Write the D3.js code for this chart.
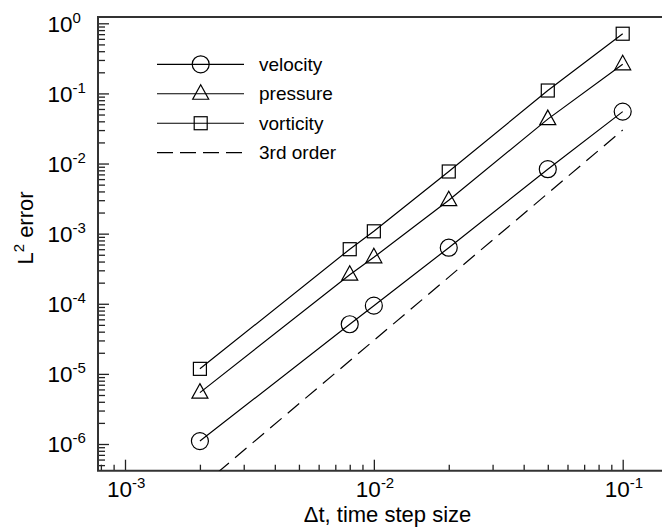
<!DOCTYPE html>
<html>
<head>
<meta charset="utf-8">
<script src="https://cdn.jsdelivr.net/npm/d3@7"></script>
<style>
  body { margin: 0; background: #fff; }
  text { font-family: "Liberation Sans", Arial, Helvetica, sans-serif; fill: #000; }
</style>
</head>
<body>
<div id="chart"></div>
<script>
// time step sizes
let dt = [0.002, 0.008, 0.01, 0.02, 0.05, 0.1]
// L2 errors
let velocity = [1.1e-6, 5.1e-5, 9.4e-5, 6.3e-4, 8.3e-3, 5.5e-2]
let pressure = [5.4e-6, 2.6e-4, 4.6e-4, 3.0e-3, 4.3e-2, 2.6e-1]
let vorticity = [1.18e-5, 6.0e-4, 1.08e-3, 7.7e-3, 1.1e-1, 7.1e-1]
// reference slope line
let orderDt = [0.002, 0.1]
let orderErr = [2.4e-7, 3.0e-2]

let xMajor = [-3, -2, -1]
let yMajor = [0, -1, -2, -3, -4, -5, -6]

let width = 662
let height = 528

// placement: 10^-3 .. 10^-1 on x, 10^0 .. 10^-6 on y
let x = d3.scaleLog().domain([1e-3, 1e-1]).range([125, 622.7])
let y = d3.scaleLog().domain([1, 1e-6]).range([23.3, 444])

let plotLeft = 98
let plotRight = 700
let plotTop = 17
let plotBottom = 470.7

let svg = d3
  .select('#chart')
  .append('svg')
  .attr('width', width)
  .attr('height', height)

svg.append('defs')
  .append('clipPath')
  .attr('id', 'plot')
  .append('rect')
  .attr('x', plotLeft)
  .attr('y', plotTop)
  .attr('width', plotRight - plotLeft)
  .attr('height', plotBottom - plotTop)

// minor tick values inside the frame
function minorTicks(scale, lo, hi) {
  let out = []
  for (let e = -8; e <= 1; e++) {
    for (let k = 2; k <= 9; k++) {
      let v = k * Math.pow(10, e)
      let p = scale(v)
      if (p > lo + 1 && p < hi - 1) out.push(v)
    }
  }
  return out
}

let xMinor = minorTicks(x, plotLeft, 662)
let yMinor = minorTicks(y, plotTop, plotBottom)

let tickColor = '#222'

// bottom axis ticks (inward)
svg.append('g')
  .attr('transform', 'translate(0,' + plotBottom + ')')
  .call(d3.axisBottom(x).tickValues(xMinor).tickSize(-6).tickSizeOuter(0).tickFormat(''))
  .call(g => g.select('.domain').remove())
svg.append('g')
  .attr('transform', 'translate(0,' + plotBottom + ')')
  .call(d3.axisBottom(x).tickValues(xMajor.map(e => Math.pow(10, e))).tickSize(-11).tickSizeOuter(0).tickFormat(''))
  .call(g => g.select('.domain').remove())

// left axis ticks (inward)
svg.append('g')
  .attr('transform', 'translate(' + plotLeft + ',0)')
  .call(d3.axisLeft(y).tickValues(yMinor).tickSize(-7).tickSizeOuter(0).tickFormat(''))
  .call(g => g.select('.domain').remove())
svg.append('g')
  .attr('transform', 'translate(' + plotLeft + ',0)')
  .call(d3.axisLeft(y).tickValues(yMajor.map(e => Math.pow(10, e))).tickSize(-11).tickSizeOuter(0).tickFormat(''))
  .call(g => g.select('.domain').remove())

svg.selectAll('.tick line').attr('stroke', tickColor).attr('stroke-width', 1.3)

// frame
svg.append('path')
  .attr('d', 'M' + plotRight + ',' + plotTop + 'H' + plotLeft + 'V' + plotBottom + 'H' + plotRight)
  .attr('fill', 'none')
  .attr('stroke', '#333')
  .attr('stroke-width', 2)

// tick labels with superscripts
function powerLabel(sel, e) {
  sel.append('tspan').text('10')
  sel.append('tspan')
    .attr('font-size', 15)
    .attr('dy', -9)
    .text(e)
}

svg.selectAll('.ylab')
  .data(yMajor)
  .enter()
  .append('text')
  .attr('class', 'ylab')
  .attr('x', 47.5)
  .attr('y', d => y(Math.pow(10, d)) + 8.4)
  .attr('font-size', 22.5)
  .each(function (d) { powerLabel(d3.select(this), d) })

svg.selectAll('.xlab')
  .data(xMajor)
  .enter()
  .append('text')
  .attr('class', 'xlab')
  .attr('x', d => x(Math.pow(10, d)) - 18)
  .attr('y', 497)
  .attr('font-size', 22.5)
  .each(function (d) { powerLabel(d3.select(this), d) })

// axis titles
svg.append('text')
  .attr('x', 387.5)
  .attr('y', 522)
  .attr('text-anchor', 'middle')
  .attr('font-size', 22)
  .text('\u0394t, time step size')

let yt = svg.append('text')
  .attr('transform', 'translate(33,228) rotate(-90)')
  .attr('text-anchor', 'middle')
  .attr('font-size', 22)
yt.append('tspan').text('L')
yt.append('tspan').attr('font-size', 15).attr('dy', -9).text('2')
yt.append('tspan').attr('dy', 9).text(' error')

// series
let series = [
  { name: 'velocity', values: velocity, marker: 'circle' },
  { name: 'pressure', values: pressure, marker: 'triangle' },
  { name: 'vorticity', values: vorticity, marker: 'square' }
]

let line = d3.line()
  .x(d => x(d[0]))
  .y(d => y(d[1]))

let plot = svg.append('g').attr('clip-path', 'url(#plot)')

function drawMarker(g, type, cx, cy) {
  if (type === 'circle') {
    g.append('circle').attr('cx', cx).attr('cy', cy).attr('r', 8.5)
  } else if (type === 'triangle') {
    g.append('path').attr('d', 'M' + cx + ',' + (cy - 9) + 'L' + (cx + 8) + ',' + (cy + 5.5) + 'L' + (cx - 8) + ',' + (cy + 5.5) + 'Z')
  } else {
    g.append('rect').attr('x', cx - 6.5).attr('y', cy - 6.5).attr('width', 13).attr('height', 13)
  }
}

series.forEach(s => {
  let pts = dt.map((d, i) => [d, s.values[i]])
  plot.append('path')
    .attr('d', line(pts))
    .attr('fill', 'none')
    .attr('stroke', '#000')
    .attr('stroke-width', 1.2)
  let mg = plot.append('g')
    .attr('fill', 'none')
    .attr('stroke', '#000')
    .attr('stroke-width', 1.2)
  pts.forEach(p => drawMarker(mg, s.marker, x(p[0]), y(p[1])))
})

plot.append('path')
  .attr('d', line(orderDt.map((d, i) => [d, orderErr[i]])))
  .attr('fill', 'none')
  .attr('stroke', '#000')
  .attr('stroke-width', 1.2)
  .attr('stroke-dasharray', '15,8')

// legend
let legendNames = ['velocity', 'pressure', 'vorticity', '3rd order']
let legendMarkers = ['circle', 'triangle', 'square', null]
let legendY = d3.scaleLinear().domain([0, 3]).range([64.3, 152.7])

let legend = svg.append('g')
legendNames.forEach((n, i) => {
  let ly = legendY(i)
  legend.append('line')
    .attr('x1', 157).attr('x2', 244)
    .attr('y1', ly).attr('y2', ly)
    .attr('stroke', '#000')
    .attr('stroke-width', 1.2)
    .attr('stroke-dasharray', legendMarkers[i] ? null : '16,7')
  if (legendMarkers[i]) {
    let mg = legend.append('g').attr('fill', 'none').attr('stroke', '#000').attr('stroke-width', 1.2)
    drawMarker(mg, legendMarkers[i], 200.7, ly)
  }
  legend.append('text')
    .attr('x', 259)
    .attr('y', ly + 6.5)
    .attr('font-size', 19)
    .text(n)
})
</script>
</body>
</html>
